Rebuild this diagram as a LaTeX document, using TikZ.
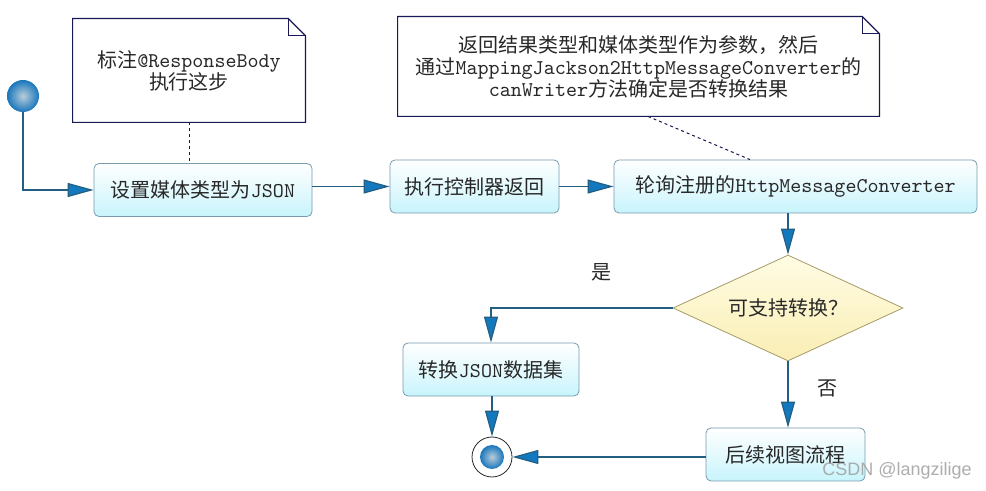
\documentclass[tikz,border=0pt]{standalone}
\usepackage{fontspec}
\setmonofont{Latin Modern Mono}[Scale=1.05]
\newfontfamily\cjkfont{Noto Sans CJK SC}
\newfontfamily\wmfont{Liberation Sans}
\newcommand{\zh}[1]{{\cjkfont #1}}
\usetikzlibrary{shapes.geometric,positioning,arrows.meta,calc}

\definecolor{linecol}{RGB}{35,95,130}
\definecolor{arrowfill}{RGB}{20,120,190}
\definecolor{boxline}{RGB}{120,155,175}
\definecolor{boxcyan}{RGB}{200,244,252}
\definecolor{decline}{RGB}{165,155,105}
\definecolor{dectop}{RGB}{255,252,228}
\definecolor{decbot}{RGB}{250,238,180}
\definecolor{notecol}{RGB}{25,25,85}
\definecolor{txtcol}{RGB}{40,40,40}
\definecolor{ballin}{RGB}{185,205,218}
\definecolor{ballout}{RGB}{25,118,188}

\begin{document}
\begin{tikzpicture}[
    x=0.5pt, y=-0.5pt,
    every node/.style={font=\fontsize{10pt}{11pt}\selectfont\ttfamily, text=txtcol},
    procbox/.style={rectangle, rounded corners=2.5pt, draw=boxline, top color=white, bottom color=boxcyan, align=center, minimum height=26.5pt, inner sep=0pt},
    decision/.style={diamond, draw=decline, top color=dectop, bottom color=decbot, shape aspect=2.17, minimum width=115pt, minimum height=53pt, inner sep=0pt},
    notebox/.style={rectangle, draw=none, align=center, inner sep=0pt},
    noteline/.style={draw=notecol, line width=0.6pt},
    ball/.style={circle, inner sep=0pt, shading=radial, inner color=ballin, outer color=ballout},
    link/.style={linecol, line width=0.6pt},
    arrow/.style={link, -{Triangle[length=13pt, width=7pt, fill=arrowfill]}},
    dotlink/.style={notecol, dashed, dash pattern=on 1.5pt off 1.5pt, line width=0.5pt},
    caseLabel/.style={font=\fontsize{10pt}{11pt}\selectfont\cjkfont},
]
\fill[white] (0,0) rectangle (986,491);
\useasboundingbox (0,0) rectangle (986,491);

% ====== Start / end ======
\node[ball, minimum size=16pt] (start) at (23,96) {};
\node[circle, draw=txtcol, line width=0.4pt, minimum size=20pt, inner sep=0pt] (finish) at (492,457) {};
\node[ball, minimum size=12pt] (finishBall) at (finish) {};

% ====== Activities ======
\node[procbox, minimum width=109pt] (setType) at (203,190) {\zh{设置媒体类型为}JSON};
\node[procbox, minimum width=84.5pt] (runCtrl) at (474.5,186.5) {\zh{执行控制器返回}};
\node[procbox, minimum width=181.5pt] (pollConv) at (795.5,186.5) {\zh{轮询注册的}HttpMessageConverter};
\node[decision] (canConv) at (788,308) {\zh{可支持转换？}};
\node[procbox, minimum width=88pt] (toJson) at (491,369.5) {\zh{转换}JSON\zh{数据集}};
\node[procbox, minimum width=79.5pt] (viewFlow) at (785.5,454.5) {\zh{后续视图流程}};

% ====== Notes ======
\node[notebox, minimum width=116pt, minimum height=51.5pt] (noteBody) at (189,70.5)
{\zh{标注}@ResponseBody\\\zh{执行这步}};
\node[notebox, minimum width=240.5pt, minimum height=49.5pt] (noteConv) at (638.5,66.5)
{\zh{返回结果类型和媒体类型作为参数，然后}\\\zh{通过}MappingJackson2HttpMessageConverter\zh{的}\\canWriter\zh{方法确定是否转换结果}};

\foreach \n in {noteBody,noteConv} {
  \draw[noteline] (\n.south west) -- (\n.south east) -- ([yshift=-8.5pt]\n.north east)
    -- ([xshift=-8.5pt]\n.north east) -- (\n.north west) -- cycle;
  \draw[noteline] ([xshift=-8.5pt]\n.north east) -- ([xshift=-8.5pt,yshift=-8.5pt]\n.north east)
    -- ([yshift=-8.5pt]\n.north east);
}

\draw[dotlink] (noteBody.south) -- (noteBody.south |- setType.north);
\draw[dotlink] ([xshift=4.75pt]noteConv.south) -- ([xshift=-22.75pt]pollConv.north);

% ====== Flow ======
\draw[arrow] (start.south) |- (setType.west);
\draw[arrow] (setType.east |- runCtrl.west) -- (runCtrl.west);
\draw[arrow] (runCtrl.east) -- (pollConv.west);
\draw[arrow] (canConv.north |- pollConv.south) -- (canConv.north);
\draw[arrow] (canConv.west) -| (toJson.north);
\draw[arrow] (canConv.south) -- (canConv.south |- viewFlow.north);
\draw[arrow] (finish.north |- toJson.south) -- (finish.north);
\draw[arrow] (viewFlow.west |- finish.east) -- (finish.east);

\node[caseLabel] (yesLabel) at (601,272) {是};
\node[caseLabel] (noLabel) at (827,388) {否};

% ====== Watermark ======
\node[font=\fontsize{9pt}{10pt}\selectfont\wmfont, text=gray!75, opacity=0.85] (mark) at (897,471) {CSDN @langzilige};

\end{tikzpicture}
\end{document}
